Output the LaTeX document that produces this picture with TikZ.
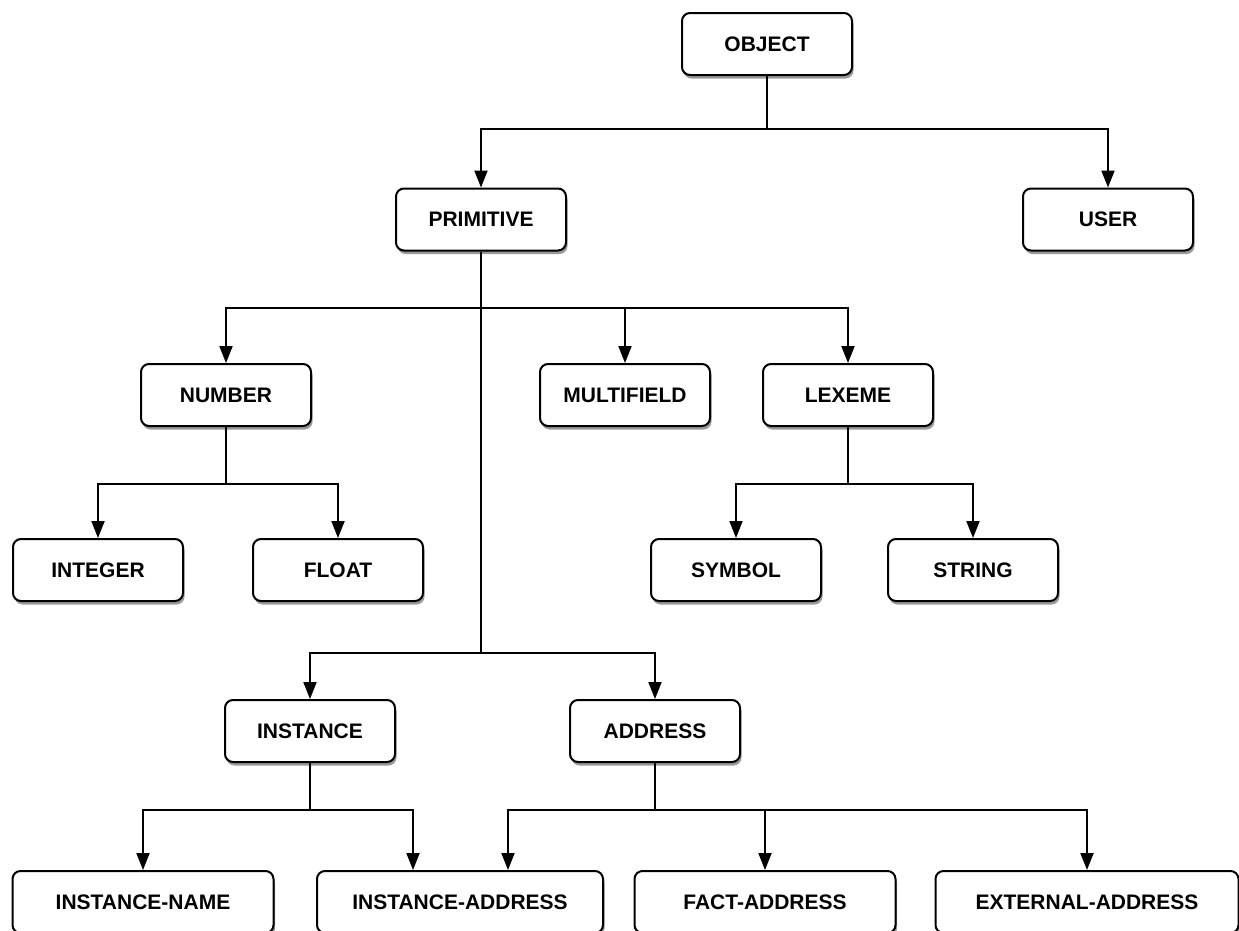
\documentclass[tikz,border=0pt]{standalone}
\usepackage{fontspec}
\setmainfont{Liberation Sans}
\usetikzlibrary{shadows,arrows.meta}
\begin{document}
\begin{tikzpicture}[x=1pt,y=-1pt,
  box/.style={draw=black, line width=2pt, rounded corners=8pt, fill=white,
    minimum height=62pt, inner sep=0pt,
    font=\fontsize{21}{25}\selectfont\bfseries,
    drop shadow={shadow xshift=1.5pt, shadow yshift=-3.5pt, fill=black, opacity=0.4}},
  conn/.style={draw=black, line width=2pt},
  arr/.style={conn, -{Triangle[length=17pt,width=13pt]}}
]
\useasboundingbox (0,0) rectangle (1239,930);
\clip (0,0) rectangle (1239,930);

\node[box, minimum width=170pt] (obj)  at (767,44)    {OBJECT};
\node[box, minimum width=170pt] (prim) at (481,219.5) {PRIMITIVE};
\node[box, minimum width=170pt] (user) at (1108,219.5) {USER};
\node[box, minimum width=170pt] (num)  at (226,395)   {NUMBER};
\node[box, minimum width=170pt] (mf)   at (625,395)   {MULTIFIELD};
\node[box, minimum width=170pt] (lex)  at (848,395)   {LEXEME};
\node[box, minimum width=170pt] (int)  at (98,570)    {INTEGER};
\node[box, minimum width=170pt] (flt)  at (338,570)   {FLOAT};
\node[box, minimum width=170pt] (sym)  at (736,570)   {SYMBOL};
\node[box, minimum width=170pt] (str)  at (973,570)   {STRING};
\node[box, minimum width=170pt] (inst) at (310,731)   {INSTANCE};
\node[box, minimum width=170pt] (addr) at (655,731)   {ADDRESS};
\node[box, minimum width=261pt] (iname) at (143,902)  {INSTANCE-NAME};
\node[box, minimum width=286pt] (iaddr) at (460,902)  {INSTANCE-ADDRESS};
\node[box, minimum width=261pt] (faddr) at (765,902)  {FACT-ADDRESS};
\node[box, minimum width=303pt] (eaddr) at (1087,902) {EXTERNAL-ADDRESS};

% OBJECT
\draw[arr] (obj.south) -- ++(0,53) -| (prim.north);
\draw[arr] (obj.south) -- ++(0,53) -| (user.north);
% PRIMITIVE
\draw[arr] (prim.south) -- ++(0,56.5) -| (num.north);
\draw[arr] (prim.south) -- ++(0,56.5) -| (mf.north);
\draw[arr] (prim.south) -- ++(0,56.5) -| (lex.north);
\draw[arr] (prim.south) -- ++(0,401.5) -| (inst.north);
\draw[arr] (prim.south) -- ++(0,401.5) -| (addr.north);
% NUMBER
\draw[arr] (num.south) -- ++(0,57) -| (int.north);
\draw[arr] (num.south) -- ++(0,57) -| (flt.north);
% LEXEME
\draw[arr] (lex.south) -- ++(0,57) -| (sym.north);
\draw[arr] (lex.south) -- ++(0,57) -| (str.north);
% INSTANCE
\draw[arr] (inst.south) -- ++(0,47) -| (iname.north);
\draw[arr] (inst.south) -- ++(0,47) -| ([xshift=-47pt]iaddr.north);
% ADDRESS
\draw[arr] (addr.south) -- ++(0,47) -| ([xshift=48pt]iaddr.north);
\draw[arr] (addr.south) -- ++(0,47) -| (faddr.north);
\draw[arr] (addr.south) -- ++(0,47) -| (eaddr.north);
\end{tikzpicture}
\end{document}
